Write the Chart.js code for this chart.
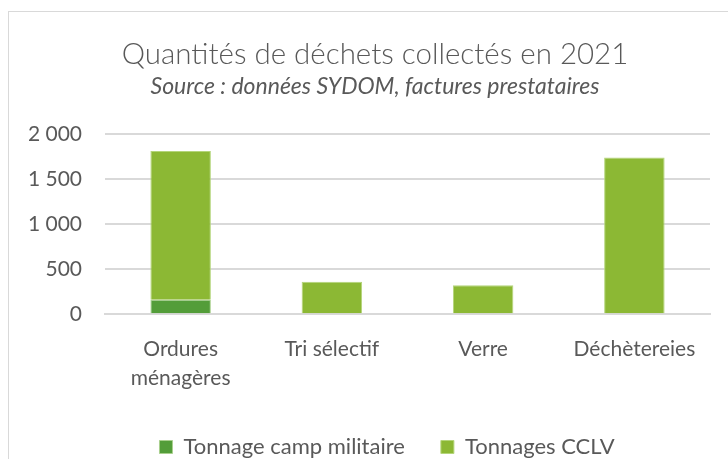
<!DOCTYPE html>
<html>
<head>
<meta charset="utf-8">
<script src="https://cdn.jsdelivr.net/npm/chart.js@4"></script>
<style>
  body { margin: 0; background: #fff; }
  #cadre { position: absolute; left: 8px; top: 11px; width: 740px; height: 470px; border: 1px solid #d9d9d9; }
  #wrap { position: absolute; left: 0; top: 0; width: 728px; height: 459px; }
</style>
</head>
<body>
<div id="cadre"></div>
<div id="wrap"><canvas id="graph"></canvas></div>
<script>
// données
const categories = [['Ordures', 'ménagères'], 'Tri sélectif', 'Verre', 'Déchètereies'];
const campMilitaire = [160, 0, 0, 0];
const tonnagesCCLV = [1650, 360, 320, 1740];
const yTicks = [0, 500, 1000, 1500, 2000];

const gris = '#595959';
const police = 'Lato, "Open Sans", sans-serif';

// décale titres et légende comme dans Excel (centrés sur le cadre, pas sur la zone de tracé)
const decalage = {
    id: 'decalage',
    afterLayout(chart) {
        chart.boxes.forEach(b => {
            if (b.position === 'top') { b.left += 20; b.right += 20; }
        });
        if (chart.legend) { chart.legend.left += 32; chart.legend.right += 32; }
    }
};

const ctx = document.getElementById('graph').getContext('2d');
new Chart(ctx, {
    type: 'bar',
    data: {
        labels: categories,
        datasets: [{
            label: 'Tonnage camp militaire',
            data: campMilitaire,
            backgroundColor: '#539d39',
            borderColor: '#a9d08e',
            borderWidth: 1,
            barPercentage: 0.4,
            categoryPercentage: 1
        }, {
            label: 'Tonnages CCLV',
            data: tonnagesCCLV,
            backgroundColor: '#8cb834',
            borderColor: '#b4d57a',
            borderWidth: 1,
            barPercentage: 0.4,
            categoryPercentage: 1
        }]
    },
    options: {
        responsive: true,
        maintainAspectRatio: false,
        animation: false,
        layout: { padding: { left: 0, right: 18, top: 0, bottom: -9 } },
        scales: {
            x: {
                stacked: true,
                grid: { display: false },
                border: { color: '#d9d9d9', width: 2 },
                afterFit: axis => { axis.height -= 5; },
                ticks: { color: gris, font: { family: police, size: 21, lineHeight: 1.4 }, padding: 12, maxRotation: 0 }
            },
            y: {
                stacked: true,
                min: 0,
                max: 2000,
                afterBuildTicks: axis => { axis.ticks = yTicks.map(v => ({ value: v })); },
                afterFit: axis => { axis.width = 105; },
                grid: { color: '#d9d9d9', lineWidth: 2, drawTicks: false },
                border: { display: false },
                ticks: {
                    color: gris,
                    font: { family: police, size: 21 },
                    padding: 23,
                    callback: v => v.toLocaleString('fr-FR').replace(/\s/g, ' ')
                }
            }
        },
        plugins: {
            title: {
                display: true,
                text: 'Quantités de déchets collectés en 2021',
                color: gris,
                font: { family: police, size: 29.5, weight: '300' },
                padding: { top: 37, bottom: 0 }
            },
            subtitle: {
                display: true,
                text: 'Source : données SYDOM, factures prestataires',
                color: gris,
                font: { family: police, size: 23, style: 'italic' },
                padding: { bottom: 34 }
            },
            legend: {
                position: 'bottom',
                labels: {
                    color: gris,
                    font: { family: police, size: 22 },
                    boxWidth: 13,
                    boxHeight: 13,
                    padding: 36,
                    useBorderRadius: false
                }
            },
            tooltip: { enabled: false }
        }
    },
    plugins: [decalage]
});
</script>
</body>
</html>
